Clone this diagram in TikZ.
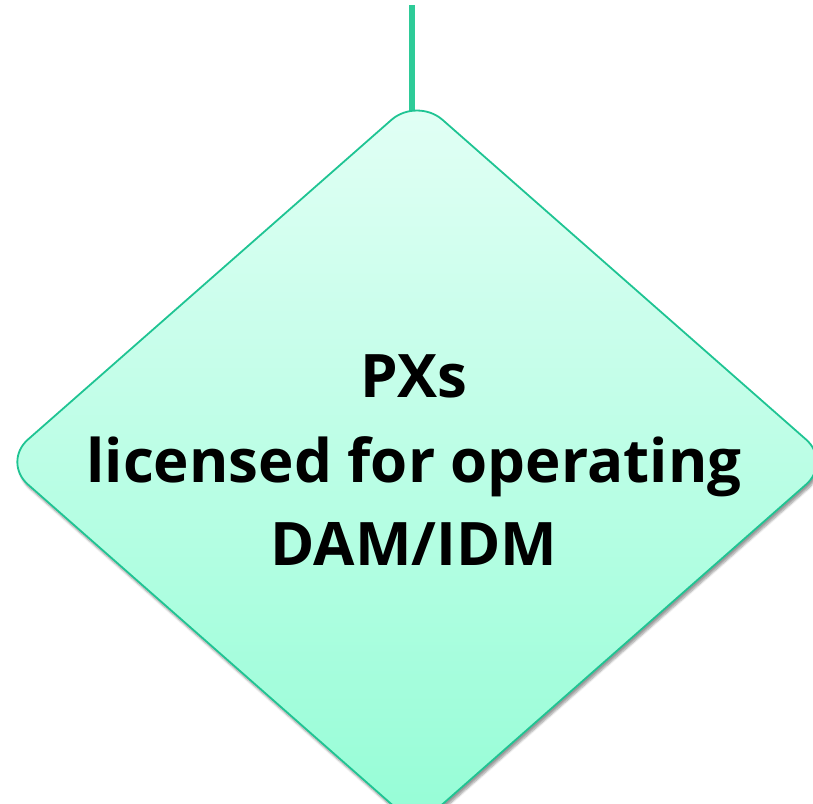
\documentclass[tikz,border=0pt]{standalone}
\usepackage{fontspec}
\setmainfont{Open Sans}
\usetikzlibrary{shapes.geometric,shadows.blur,backgrounds}
\definecolor{edgegreen}{HTML}{1FC493}
\definecolor{stemgreen}{HTML}{2ECB98}
\definecolor{filltop}{HTML}{E2FFF5}
\definecolor{fillbot}{HTML}{95FDD6}
\tikzset{
  decision/.style={diamond, draw=edgegreen, line width=1.8pt, rounded corners=34pt,
    top color=filltop, bottom color=fillbot, inner sep=0pt,
    minimum width=830pt, minimum height=730pt,
    blur shadow={shadow xshift=2pt, shadow yshift=-4pt, shadow blur steps=6, shadow opacity=40}},
  label line/.style={font=\fontsize{60}{84}\selectfont\bfseries, anchor=base, inner sep=0pt},
  stem/.style={draw=stemgreen, line width=5.5pt}
}
\begin{document}
\begin{tikzpicture}[x=1pt,y=-1pt]
\useasboundingbox (0,0) rectangle (813,803);
\node[decision] (dia) at (417,462) {};
\coordinate (stemtop) at (412,5);
\coordinate (stembot) at ([yshift=-30pt]dia.north);
\begin{scope}[on background layer]
\draw[stem] (stemtop) -- (stemtop |- stembot);
\end{scope}
\node[label line] (l1) at (414,397) {PXs};
\node[label line] (l2) at (414,482) {licensed for operating};
\node[label line] (l3) at (414,565) {DAM/IDM};
\end{tikzpicture}
\end{document}
